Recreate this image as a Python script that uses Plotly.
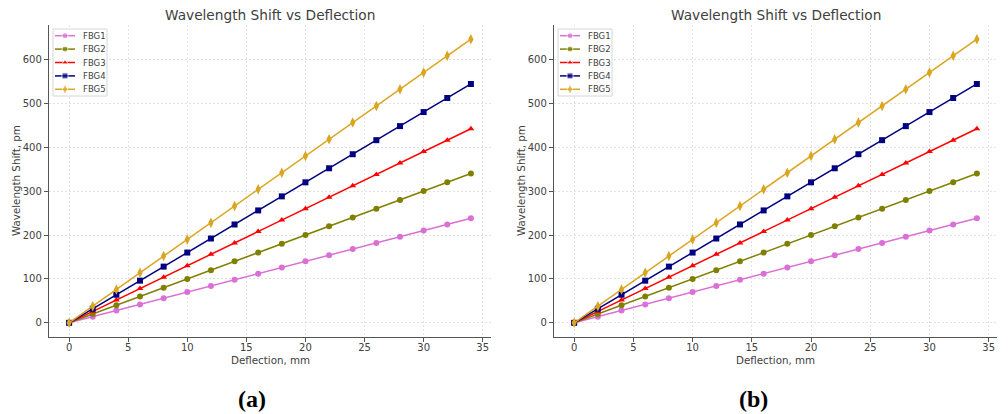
import plotly.graph_objects as go

deflection = [0, 2, 4, 6, 8, 10, 12, 14, 16, 18, 20, 22, 24, 26, 28, 30, 32, 34]
fbg1 = [0, 14, 28, 42, 56, 70, 84, 98, 112, 126, 140, 154, 168, 182, 196, 210, 224, 238]
fbg2 = [0, 20, 40, 60, 80, 100, 120, 140, 160, 180, 200, 220, 240, 260, 280, 300, 320, 340]
fbg3 = [0, 26, 52, 78, 104, 130, 156, 182, 208, 234, 260, 286, 312, 338, 364, 390, 416, 442]
fbg4 = [0, 32, 64, 96, 128, 160, 192, 224, 256, 288, 320, 352, 384, 416, 448, 480, 512, 544]
fbg5 = [0, 38, 76, 114, 152, 190, 228, 266, 304, 342, 380, 418, 456, 494, 532, 570, 608, 646]

series_names = ["FBG1", "FBG2", "FBG3", "FBG4", "FBG5"]
series_values = [fbg1, fbg2, fbg3, fbg4, fbg5]
colors = ["#da70d6", "#808000", "#ff0000", "#000080", "#daa520"]
symbols = ["circle", "circle", "triangle-up", "square", "diamond-tall"]
panel_labels = ["(a)", "(b)"]
x_ticks = [0, 5, 10, 15, 20, 25, 30, 35]
y_ticks = [0, 100, 200, 300, 400, 500, 600]

W, H = 1008, 414
FONT = "DejaVu Sans"
TXT = "#404040"

fig = go.Figure()

x_domains = [[49 / W, 491 / W], [554 / W, 997 / W]]
y_domain = [(H - 337) / H, (H - 25) / H]
panel_offsets = [0, 505]


def msize(s):
    return 7.5 if s == "diamond-tall" else 6


# data traces
for p in range(2):
    xa = "x" if p == 0 else "x2"
    ya = "y" if p == 0 else "y2"
    for name, vals, c, s in zip(series_names, series_values, colors, symbols):
        fig.add_trace(go.Scatter(
            x=deflection, y=vals, name=name, mode="lines+markers",
            line=dict(color=c, width=1.5),
            marker=dict(color=c, symbol=s, size=msize(s)),
            xaxis=xa, yaxis=ya, showlegend=False,
        ))

# legend (drawn on a pixel-coordinate overlay subplot)
annotations = []
LX0, LY0, LX1, LY1 = 53, 29, 107, 96
ROW0, ROWH = 35.7, 13.4
for p in range(2):
    off = panel_offsets[p]
    fig.add_trace(go.Scatter(
        x=[LX0 + off, LX1 + off, LX1 + off, LX0 + off, LX0 + off],
        y=[LY0, LY0, LY1, LY1, LY0],
        mode="lines", fill="toself", fillcolor="rgba(255,255,255,0.95)",
        line=dict(color="#d6d6d6", width=1),
        xaxis="x3", yaxis="y3", showlegend=False, hoverinfo="skip",
    ))
    for i, (name, c, s) in enumerate(zip(series_names, colors, symbols)):
        yy = ROW0 + i * ROWH
        fig.add_trace(go.Scatter(
            x=[55 + off, 65 + off, 75 + off], y=[yy, yy, yy],
            mode="lines+markers",
            line=dict(color=c, width=1.5),
            marker=dict(color=c, symbol=s, size=[0, msize(s), 0]),
            xaxis="x3", yaxis="y3", showlegend=False, hoverinfo="skip",
        ))
        annotations.append(dict(
            text=name, x=(81 + off) / W, y=1 - yy / H, xref="paper", yref="paper",
            showarrow=False, xanchor="left", yanchor="middle",
            font=dict(family=FONT, size=8.5, color=TXT),
        ))

axis_common = dict(
    showline=True, linecolor="#555555", linewidth=1.3, mirror=False,
    showgrid=True, gridcolor="#e2e2e2", griddash="2px,2px", gridwidth=0.8,
    ticks="outside", ticklen=4, tickcolor="#555555", tickwidth=1,
    zeroline=False, tickfont=dict(family=FONT, size=10, color=TXT),
)

for p in range(2):
    sfx = "" if p == 0 else "2"
    fig.layout["xaxis" + sfx] = dict(
        domain=x_domains[p], anchor="y" + sfx, range=[-1.7, 35.7],
        tickvals=x_ticks, ticklabelstandoff=-3, **axis_common,
    )
    fig.layout["yaxis" + sfx] = dict(
        domain=y_domain, anchor="x" + sfx, range=[-32.3, 678.3],
        tickvals=y_ticks, **axis_common,
    )

fig.layout["xaxis3"] = dict(domain=[0, 1], anchor="y3", range=[0, W], visible=False, fixedrange=True)
fig.layout["yaxis3"] = dict(domain=[0, 1], anchor="x3", range=[H, 0], visible=False, fixedrange=True)

ycenter = (y_domain[0] + y_domain[1]) / 2
for p in range(2):
    cx = (x_domains[p][0] + x_domains[p][1]) / 2
    annotations.append(dict(
        text="Wavelength Shift vs Deflection", x=cx, y=1 - 15 / H,
        xref="paper", yref="paper", showarrow=False, xanchor="center", yanchor="middle",
        font=dict(family=FONT, size=13.7, color=TXT),
    ))
    annotations.append(dict(
        text="Deflection, mm", x=cx, y=1 - 360 / H,
        xref="paper", yref="paper", showarrow=False, xanchor="center", yanchor="middle",
        font=dict(family=FONT, size=10.3, color=TXT),
    ))
    annotations.append(dict(
        text="Wavelength Shift, pm", x=(16 + panel_offsets[p]) / W, y=ycenter,
        xref="paper", yref="paper", showarrow=False, xanchor="center", yanchor="middle",
        textangle=-90, font=dict(family=FONT, size=10.3, color=TXT),
    ))
    annotations.append(dict(
        text="<b>" + panel_labels[p] + "</b>", x=[252 / W, 753 / W][p], y=1 - 399 / H,
        xref="paper", yref="paper", showarrow=False, xanchor="center", yanchor="middle",
        font=dict(family="Liberation Serif", size=24, color="#000000"),
    ))

fig.update_layout(
    width=W, height=H, margin=dict(l=0, r=0, t=0, b=0),
    paper_bgcolor="white", plot_bgcolor="rgba(0,0,0,0)",
    annotations=annotations, showlegend=False,
)

fig.write_html("out.html")
